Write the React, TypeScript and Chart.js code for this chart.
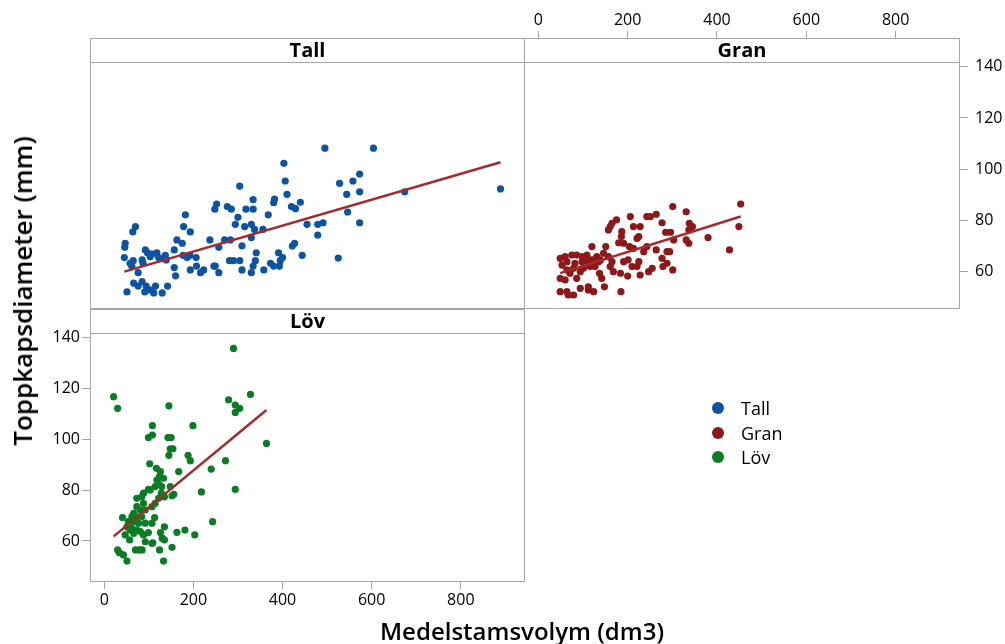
import React, { useEffect, useRef } from "react";
import { Chart, registerables } from "chart.js";

Chart.register(...registerables);

// Trädslag (tree species), one panel each
const groups = ["Tall", "Gran", "Löv"];

// Tall: medelstamsvolym (dm3) and toppkapsdiameter (mm)
const tallVolym = [
  403, 406, 410, 304, 334, 252, 248, 276, 285, 318,
  334, 300, 294, 315, 330, 337, 356, 368, 380, 382,
  420, 429, 440, 182, 178, 193, 163, 175, 157, 237,
  257, 270, 283, 309, 330, 177, 186, 192, 206, 207,
  193, 216, 223, 246, 249, 257, 281, 290, 304, 309,
  330, 334, 339, 341, 358, 373, 380, 393, 395, 400,
  391, 422, 427, 157, 160, 142, 130, 115, 111, 103,
  91, 94, 85, 76, 66, 51, 76, 58, 65, 62,
  45, 46, 47, 64, 70, 85, 87, 92, 97, 103,
  107, 118, 122, 130, 137, 139, 495, 604, 573, 558,
  528, 544, 573, 674, 889, 546, 455, 479, 491, 573,
  479, 444, 525,
];
const tallDiameter = [
  102.3, 95.4, 90.2, 93.4, 88.1, 86.4, 84.4, 85.4, 84.4, 84.4,
  84.4, 81.2, 78.5, 77.6, 78.5, 76.5, 76.5, 82.2, 86.9, 88.3,
  85.4, 84.6, 87.1, 82.2, 77.6, 75.5, 72.4, 71.1, 68.5, 72.4,
  69.5, 72.4, 72.4, 70.1, 73.3, 66.4, 65.5, 66.4, 65.5, 62.2,
  60.7, 59.6, 60.7, 62.2, 62.2, 59.6, 64.3, 64.3, 64.3, 60.7,
  59.6, 62.2, 64.3, 67.4, 60.7, 63.3, 62.2, 62.2, 64.3, 65.5,
  67.4, 70.0, 71.1, 61.6, 58.4, 54.4, 51.7, 54.4, 51.7, 52.9,
  52.1, 54.4, 56.1, 54.4, 55.5, 52.1, 59.6, 63.3, 64.3, 62.0,
  65.5, 69.5, 71.1, 75.5, 77.6, 64.6, 63.3, 68.5, 67.4, 65.9,
  66.9, 67.4, 65.5, 65.1, 66.4, 64.6, 108.2, 108.2, 98.1, 95.4,
  94.5, 90.2, 91.2, 91.2, 92.3, 83.3, 78.5, 78.5, 79.1, 79.1,
  74.3, 66.4, 65.3,
];

// Gran
const granVolym = [
  453, 449, 428, 380, 301, 331, 338, 345, 337, 331,
  337, 303, 285, 296, 277, 264, 251, 243, 228, 213,
  206, 225, 221, 187, 186, 180, 191, 175, 165, 161,
  157, 151, 120, 204, 213, 243, 236, 264, 288, 294,
  277, 288, 279, 301, 255, 247, 228, 221, 225, 210,
  201, 200, 191, 184, 185, 168, 161, 165, 157, 146,
  131, 135, 127, 137, 142, 148, 124, 112, 112, 94,
  79, 67, 64, 49, 86, 71, 60, 49, 64, 53,
  49, 60, 75, 86, 98, 109, 120, 116, 101, 94,
  79, 82, 64, 124, 139, 109, 98,
];
const granDiameter = [
  86.4, 77.6, 68.5, 73.3, 85.4, 83.4, 78.9, 77.6, 76.3, 72.4,
  71.1, 72.4, 75.4, 75.4, 79.1, 82.4, 81.5, 81.5, 77.6, 77.6,
  81.5, 73.7, 73.0, 75.6, 73.7, 71.3, 71.1, 80.2, 78.9, 77.6,
  76.3, 69.8, 69.8, 69.8, 69.1, 69.8, 67.8, 68.5, 67.8, 67.8,
  65.2, 63.3, 62.0, 60.7, 61.3, 60.0, 58.7, 62.0, 63.9, 62.0,
  64.6, 58.3, 63.9, 59.4, 52.2, 60.0, 62.0, 63.9, 65.9, 67.2,
  65.9, 63.9, 62.0, 59.4, 57.4, 54.1, 52.2, 52.9, 54.1, 53.5,
  50.9, 50.9, 52.2, 52.2, 57.4, 59.4, 56.8, 57.4, 60.7, 62.6,
  65.2, 65.9, 66.5, 66.5, 65.9, 66.5, 64.6, 62.0, 61.3, 60.0,
  61.3, 63.3, 63.9, 63.9, 64.6, 63.9, 63.9,
];

// Löv
const lovVolym = [
  290, 328, 279, 294, 304, 294, 364, 294, 243, 272,
  240, 218, 199, 188, 193, 167, 156, 152, 145, 143,
  150, 148, 154, 145, 108, 108, 99, 102, 117, 126,
  133, 148, 129, 122, 114, 99, 88, 84, 73, 128,
  122, 114, 107, 88, 92, 81, 73, 66, 62, 73,
  84, 66, 77, 54, 51, 62, 73, 81, 99, 88,
  66, 57, 47, 41, 92, 107, 113, 135, 126, 130,
  135, 109, 163, 181, 203, 152, 124, 133, 70, 79,
  85, 30, 34, 43, 51, 21, 30, 103, 118, 124,
  135, 107, 92, 58,
];
const lovDiameter = [
  135.8, 117.7, 115.5, 113.5, 112.2, 110.6, 98.4, 80.3, 67.6, 91.6,
  88.3, 79.3, 105.4, 93.7, 91.6, 87.3, 78.4, 77.8, 113.2, 100.7,
  100.7, 96.3, 96.3, 93.7, 105.4, 101.7, 100.7, 90.4, 88.6, 87.3,
  84.7, 81.4, 81.4, 82.4, 81.4, 80.3, 78.8, 77.4, 76.8, 78.8,
  76.8, 74.8, 73.5, 74.8, 72.2, 72.2, 73.5, 70.9, 69.6, 69.6,
  69.6, 67.6, 67.0, 67.6, 65.6, 65.0, 64.3, 63.7, 63.3, 62.4,
  63.0, 60.4, 62.4, 69.2, 59.7, 59.1, 69.2, 65.6, 63.3, 61.1,
  60.4, 59.3, 63.4, 64.3, 62.4, 57.5, 56.5, 52.1, 56.5, 56.5,
  56.5, 56.5, 55.4, 54.5, 52.1, 116.8, 112.2, 80.1, 84.0, 85.3,
  77.4, 67.0, 67.0, 64.3,
];

// Fitted lines per species: [intercept, slope]
const tallFit = [57.73, 0.0506];
const granFit = [56.74, 0.0547];
const lovFit = [58.77, 0.145];

const volymTicks = [0, 200, 400, 600, 800];
const diameterTicks = [60, 80, 100, 120, 140];

const W = 1005;
const H = 644;
const FONT = "'Open Sans', 'Noto Sans', sans-serif";
const FRAME = "#a6a6a6";
const FIT_COLOR = "#a32b2b";
const GROUP_COLORS = ["#0b54a4", "#8e1818", "#0a7d24"];
const HEADER_H = 24;
const X_MIN = -32;
const X_MAX = 944;
// Room reserved for each visible axis (ticks + labels)
const AXIS_BOX = { top: 38, bottom: 40, left: 60, right: 45 };

type Area = { left: number; top: number; right: number; bottom: number };
type PanelSpec = {
  title: string;
  xs: number[];
  ys: number[];
  fit: number[];
  color: string;
  area: Area;
  yMin: number;
  yMax: number;
  xAxis: "top" | "bottom" | null;
  yAxis: "left" | "right" | null;
};

// Draws the panel frame and the header strip with the panel name
const panelFrame = {
  id: "panelFrame",
  afterDraw(chart: any, _args: any, opts: any) {
    const { ctx, chartArea: a } = chart;
    ctx.save();
    ctx.strokeStyle = FRAME;
    ctx.lineWidth = 1;
    ctx.strokeRect(a.left + 0.5, a.top + 0.5, a.right - a.left - 1, a.bottom - a.top - 1);
    ctx.beginPath();
    ctx.moveTo(a.left, a.top + HEADER_H + 0.5);
    ctx.lineTo(a.right, a.top + HEADER_H + 0.5);
    ctx.stroke();
    ctx.fillStyle = "#000";
    ctx.font = `bold 20px ${FONT}`;
    ctx.textAlign = "center";
    ctx.textBaseline = "middle";
    ctx.fillText(opts.title, (a.left + a.right) / 2, a.top + HEADER_H / 2 + 1);
    ctx.restore();
  },
};

function axisOptions(
  kind: "x" | "y",
  position: "top" | "bottom" | "left" | "right" | null,
  min: number,
  max: number,
  ticks: number[],
  padding: number
) {
  return {
    type: "linear",
    min,
    max,
    position: position ?? (kind === "x" ? "bottom" : "left"),
    display: position !== null,
    afterBuildTicks: (s: any) => {
      s.ticks = ticks.map((v) => ({ value: v }));
    },
    afterFit: (s: any) => {
      if (!position) return;
      if (kind === "x") s.height = AXIS_BOX[position];
      else s.width = AXIS_BOX[position];
    },
    grid: {
      drawOnChartArea: false,
      drawTicks: true,
      tickLength: kind === "x" ? 7 : 8,
      tickColor: FRAME,
      color: FRAME,
    },
    border: { display: false },
    ticks: {
      padding,
      color: "#000",
      font: { size: 16, family: FONT },
      maxRotation: 0,
      autoSkip: false,
    },
  };
}

function makePanel(canvas: HTMLCanvasElement, p: PanelSpec) {
  const points = p.xs.map((x, i) => ({ x, y: p.ys[i] }));
  const lo = Math.min(...p.xs);
  const hi = Math.max(...p.xs);
  const fitLine = [lo, hi].map((x) => ({ x, y: p.fit[0] + p.fit[1] * x }));
  const xPad = p.xAxis === "top" ? 1 : 2;
  const yPad = p.yAxis === "right" ? 7 : 2;
  const pad = {
    left: p.area.left - (p.yAxis === "left" ? AXIS_BOX.left : 0),
    right: W - p.area.right - (p.yAxis === "right" ? AXIS_BOX.right : 0),
    top: p.area.top - (p.xAxis === "top" ? AXIS_BOX.top : 0),
    bottom: H - p.area.bottom - (p.xAxis === "bottom" ? AXIS_BOX.bottom : 0),
  };
  return new Chart(canvas, {
    type: "scatter",
    data: {
      datasets: [
        {
          type: "line",
          data: fitLine,
          borderColor: FIT_COLOR,
          borderWidth: 2.5,
          pointRadius: 0,
          order: 0,
        },
        {
          data: points,
          backgroundColor: p.color,
          borderWidth: 0,
          pointRadius: 3.6,
          order: 1,
        },
      ],
    } as any,
    options: {
      responsive: false,
      animation: false,
      events: [],
      layout: { padding: pad },
      plugins: {
        legend: { display: false },
        tooltip: { enabled: false },
        panelFrame: { title: p.title },
      } as any,
      scales: {
        x: axisOptions("x", p.xAxis, X_MIN, X_MAX, volymTicks, xPad),
        y: axisOptions("y", p.yAxis, p.yMin, p.yMax, diameterTicks, yPad),
      } as any,
    },
    plugins: [panelFrame],
  });
}

const panels: PanelSpec[] = [
  {
    title: groups[0],
    xs: tallVolym,
    ys: tallDiameter,
    fit: tallFit,
    color: GROUP_COLORS[0],
    area: { left: 90, top: 38, right: 525, bottom: 309 },
    yMin: 45.44,
    yMax: 151.2,
    xAxis: null,
    yAxis: null,
  },
  {
    title: groups[1],
    xs: granVolym,
    ys: granDiameter,
    fit: granFit,
    color: GROUP_COLORS[1],
    area: { left: 524, top: 38, right: 960, bottom: 309 },
    yMin: 45.44,
    yMax: 151.2,
    xAxis: "top",
    yAxis: "right",
  },
  {
    title: groups[2],
    xs: lovVolym,
    ys: lovDiameter,
    fit: lovFit,
    color: GROUP_COLORS[2],
    area: { left: 90, top: 309, right: 525, bottom: 582 },
    yMin: 43.86,
    yMax: 151.3,
    xAxis: "bottom",
    yAxis: "left",
  },
];

export default function App() {
  const refs = [
    useRef<HTMLCanvasElement>(null),
    useRef<HTMLCanvasElement>(null),
    useRef<HTMLCanvasElement>(null),
  ];

  useEffect(() => {
    Chart.defaults.font.family = FONT;
    const charts = panels.map((p, i) => makePanel(refs[i].current!, p));
    return () => charts.forEach((c) => c.destroy());
  }, []);

  const abs: React.CSSProperties = { position: "absolute", left: 0, top: 0 };

  return (
    <div
      style={{
        position: "absolute",
        left: 0,
        top: 0,
        width: W,
        height: H,
        background: "#fff",
        fontFamily: FONT,
        color: "#000",
        overflow: "hidden",
      }}
    >
      {refs.map((r, i) => (
        <canvas key={i} ref={r} width={W} height={H} style={{ ...abs, width: W, height: H }} />
      ))}
      <div
        style={{
          position: "absolute",
          left: 522,
          top: 631,
          transform: "translate(-50%, -50%)",
          fontSize: 24,
          fontWeight: 600,
          whiteSpace: "nowrap",
          lineHeight: 1,
        }}
      >
        Medelstamsvolym (dm3)
      </div>
      <div
        style={{
          position: "absolute",
          left: 22,
          top: 291,
          transform: "translate(-50%, -50%) rotate(-90deg)",
          fontSize: 26,
          fontWeight: 600,
          whiteSpace: "nowrap",
          lineHeight: 1,
        }}
      >
        Toppkapsdiameter (mm)
      </div>
      {groups.map((g, i) => (
        <div
          key={g}
          style={{
            position: "absolute",
            left: 712,
            top: 408 + i * 24.5,
            transform: "translateY(-50%)",
            display: "flex",
            alignItems: "center",
            fontSize: 18,
            lineHeight: 1,
            whiteSpace: "nowrap",
          }}
        >
          <span
            style={{
              display: "inline-block",
              width: 12,
              height: 12,
              borderRadius: "50%",
              background: GROUP_COLORS[i],
              marginRight: 17,
            }}
          />
          <span>{g}</span>
        </div>
      ))}
    </div>
  );
}
